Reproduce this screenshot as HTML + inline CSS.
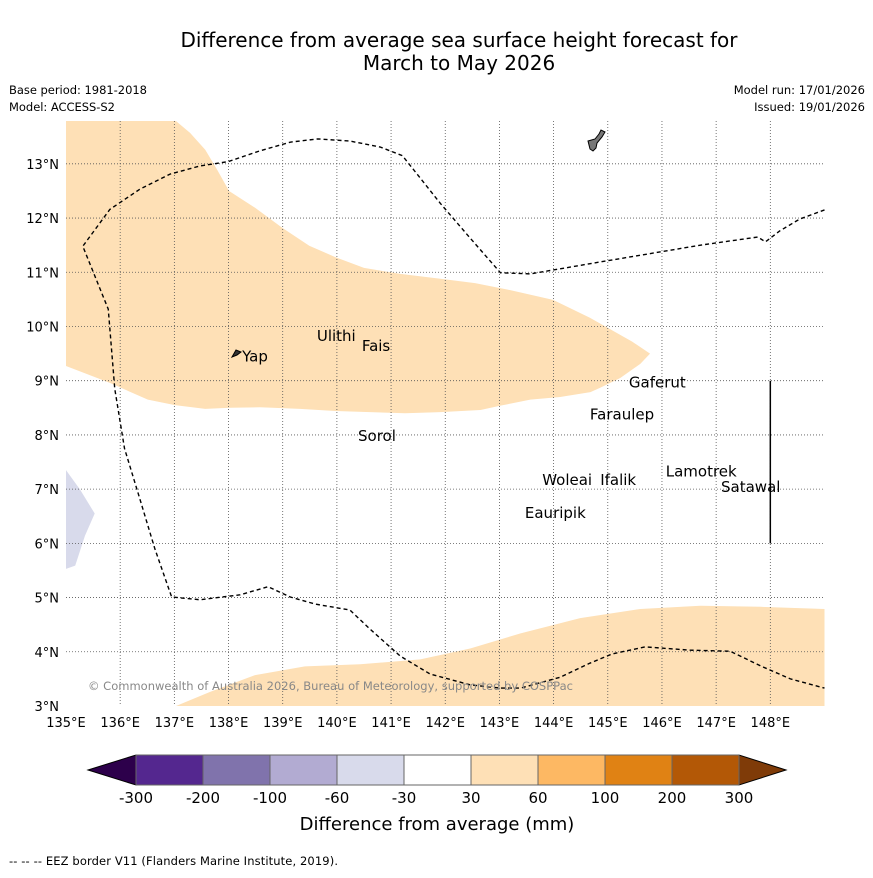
<!DOCTYPE html>
<html><head><meta charset="utf-8"><style>
body{margin:0;background:#fff;font-family:"Liberation Sans","DejaVu Sans",sans-serif}
svg text{font-family:"DejaVu Sans","Liberation Sans",sans-serif}
</style></head><body>
<svg id="c" width="873" height="873" viewBox="0 0 873 873" xmlns="http://www.w3.org/2000/svg">
<rect width="873" height="873" fill="#fff"/>
<text x="459" y="47" font-size="20" text-anchor="middle">Difference from average sea surface height forecast for</text>
<text x="459" y="70" font-size="20" text-anchor="middle">March to May 2026</text>
<text x="9" y="94" font-size="11.5" textLength="138">Base period: 1981-2018</text>
<text x="9" y="111" font-size="11.5" textLength="106">Model: ACCESS-S2</text>
<text x="865" y="94" font-size="11.5" text-anchor="end">Model run: 17/01/2026</text>
<text x="865" y="111" font-size="11.5" text-anchor="end">Issued: 19/01/2026</text>
<g id="map"></g>
<g id="cbar"></g>
<text x="437" y="830" font-size="18" text-anchor="middle">Difference from average (mm)</text>
<text x="9" y="865" font-size="11.5" textLength="329">--  --  -- EEZ border V11 (Flanders Marine Institute, 2019).</text>
</svg>
<script>
const lonMin=135,lonMax=149,latMin=3,latMax=13.79;
const lonTicks=[135,136,137,138,139,140,141,142,143,144,145,146,147,148];
const latTicks=[3,4,5,6,7,8,9,10,11,12,13];
const upperAnom=[[135,13.79],[137.03,13.79],[137.29,13.57],[137.57,13.26],[137.79,12.89],[138.01,12.5],[138.49,12.19],[138.99,11.82],[139.49,11.49],[139.97,11.28],[140.5,11.08],[141.17,10.97],[141.91,10.88],[142.55,10.8],[143.2,10.67],[143.99,10.49],[144.67,10.16],[145.45,9.72],[145.78,9.5],[145.6,9.31],[145.23,9.05],[144.86,8.87],[144.68,8.79],[144.12,8.7],[143.57,8.65],[143.02,8.54],[142.65,8.46],[141.91,8.42],[141.26,8.4],[140.61,8.42],[139.97,8.44],[139.32,8.48],[138.58,8.51],[138.03,8.5],[137.57,8.48],[137.01,8.55],[136.51,8.65],[135.81,8.96],[135,9.27]];
const lowerAnom=[[137.03,3],[137.66,3.26],[138.49,3.57],[139.41,3.73],[140.43,3.77],[141.54,3.86],[142.46,4.06],[143.39,4.34],[144.49,4.62],[145.6,4.79],[146.71,4.85],[147.82,4.83],[149,4.79],[149,3]];
const negAnom=[[135,7.35],[135.26,6.99],[135.53,6.55],[135.35,6.14],[135.17,5.59],[135,5.53]];
const eezLon=[149,148.54,148.17,147.91,147.77,146.71,144.86,143.57,143.02,142.46,141.91,141.21,140.8,140.24,139.65,139.14,138.58,137.99,137.47,136.92,136.36,135.81,135.31,135.78,135.9,136.08,136.36,136.64,136.95,137.47,138.21,138.73,139.14,139.6,140.24,140.61,141.17,141.72,142.46,143.02,143.39,144.12,144.67,145.08,145.69,146.52,147.26,147.82,148.37,149];
const eezLat=[12.15,11.98,11.76,11.56,11.65,11.5,11.19,10.97,10.99,11.63,12.27,13.15,13.31,13.42,13.46,13.4,13.24,13.04,12.96,12.81,12.53,12.16,11.48,10.32,8.85,7.75,6.83,5.9,5.01,4.96,5.05,5.2,5.01,4.88,4.77,4.42,3.92,3.59,3.39,3.33,3.33,3.53,3.79,3.96,4.09,4.03,4.01,3.74,3.5,3.33];
const islandNames=["Ulithi","Fais","Yap","Gaferut","Faraulep","Sorol","Woleai","Ifalik","Lamotrek","Satawal","Eauripik"];
const islandLon=[139.63,140.46,138.25,145.39,144.67,140.39,143.79,144.86,146.07,147.09,143.47];
const islandLat=[9.73,9.55,9.35,8.87,8.28,7.89,7.08,7.08,7.23,6.95,6.47];
const cbLabels=["-300","-200","-100","-60","-30","30","60","100","200","300"];
const cbColors=["#54278f","#8073ac","#b2abd2","#d8daeb","#ffffff","#fee0b6","#fdb863","#e08214","#b35806"];
const X0=66,X1=824.5,Y0=706,Y1=121;
const sx=l=>X0+(l-lonMin)*(X1-X0)/(lonMax-lonMin);
const sy=l=>Y0-(l-latMin)*(Y0-Y1)/(latMax-latMin);
const NS="http://www.w3.org/2000/svg";
function mk(t,a,p){const e=document.createElementNS(NS,t);for(const k in a)e.setAttribute(k,a[k]);p.appendChild(e);return e;}
const map=document.getElementById('map');
function poly(pts,fill,name){const e=mk('polygon',{points:pts.map(p=>sx(p[0])+','+sy(p[1])).join(' '),fill:fill},map);

}
poly(upperAnom,'#fee0b6','anomaly-region-upper');
poly(lowerAnom,'#fee0b6','anomaly-region-lower');
poly(negAnom,'#d8daeb','anomaly-region-negative');
lonTicks.forEach(l=>{if(l>lonMin){const g=mk('line',{x1:sx(l),x2:sx(l),y1:Y1,y2:Y0,stroke:'#555','stroke-width':0.8,'stroke-dasharray':'1,2'},map);

}
const t=mk('text',{x:sx(l),y:727,'font-size':13,'text-anchor':'middle'},map);t.textContent=l+'°E';

});
latTicks.forEach(l=>{if(l>latMin){const g=mk('line',{x1:X0,x2:X1,y1:sy(l),y2:sy(l),stroke:'#555','stroke-width':0.8,'stroke-dasharray':'1,2'},map);

}
const t=mk('text',{x:59,y:sy(l)+5,'font-size':13,'text-anchor':'end'},map);t.textContent=l+'°N';

});
const eez=mk('polyline',{points:eezLon.map((l,i)=>sx(l)+','+sy(eezLat[i])).join(' '),fill:'none',stroke:'#000','stroke-width':1.4,'stroke-dasharray':'4,3'},map);


const bl=mk('line',{x1:sx(148),x2:sx(148),y1:sy(9),y2:sy(6),stroke:'#000','stroke-width':1.5},map);


const guam=mk('path',{d:'M588,141 L595,139 L599,134 L601,130 L605,132 L602,137 L597,143 L596,148 L593,151 L590,149 L589,145 Z',fill:'#777',stroke:'#000','stroke-width':1},map);


const yap=mk('path',{d:'M232,357 L236,350 L241,352 L237,355 Z',fill:'#333',stroke:'#000','stroke-width':1},map);


islandNames.forEach((n,i)=>{const t=mk('text',{x:sx(islandLon[i]),y:sy(islandLat[i]),'font-size':15},map);t.textContent=n;

});
const cr=mk('text',{x:88,y:690,'font-size':11.5,fill:'#888',textLength:485},map);cr.textContent='© Commonwealth of Australia 2026, Bureau of Meteorology, supported by COSPPac';


const cb=document.getElementById('cbar');
const bx0=136,bw=67,by=755,bh=30;
const lt=mk('polygon',{points:`88,770 ${bx0},${by} ${bx0},${by+bh}`,fill:'#2d004b',stroke:'#000','stroke-width':1},cb);


const rt=mk('polygon',{points:`786,770 ${bx0+9*bw},${by} ${bx0+9*bw},${by+bh}`,fill:'#7f3b08',stroke:'#000','stroke-width':1},cb);


cbColors.forEach((c,i)=>{const r=mk('rect',{x:bx0+i*bw,y:by,width:bw,height:bh,fill:c,stroke:'#666','stroke-width':1},cb);

});
cbLabels.forEach((s,i)=>{const t=mk('text',{x:bx0+i*bw,y:803,'font-size':15,'text-anchor':'middle'},cb);t.textContent=s;

});
</script>
</body></html>
